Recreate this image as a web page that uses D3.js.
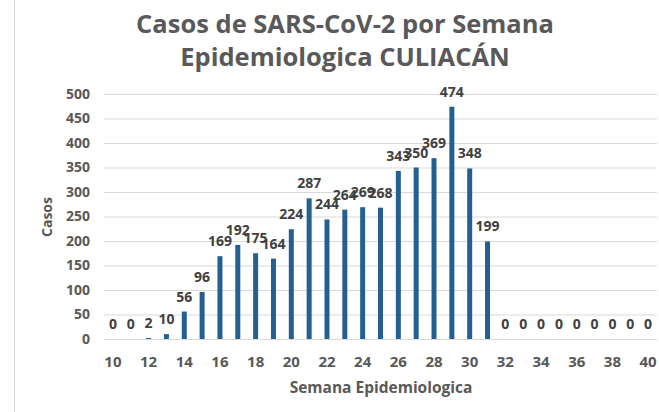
<!DOCTYPE html>
<html>
<head>
<meta charset="utf-8">
<script src="https://cdn.jsdelivr.net/npm/d3@7"></script>
<style>
  html, body { margin: 0; padding: 0; background: #ffffff; }
  svg { display: block; }
</style>
</head>
<body>
<svg id="chart" width="659" height="412"></svg>
<script>
// Weekly SARS-CoV-2 cases, Culiacán, epidemiological weeks 10–40
const weeks = [10, 11, 12, 13, 14, 15, 16, 17, 18, 19, 20, 21, 22, 23, 24, 25,
               26, 27, 28, 29, 30, 31, 32, 33, 34, 35, 36, 37, 38, 39, 40];
const cases = [0, 0, 2, 10, 56, 96, 169, 192, 175, 164, 224, 287, 244, 264, 269, 268,
               343, 350, 369, 474, 348, 199, 0, 0, 0, 0, 0, 0, 0, 0, 0];
const xTickWeeks = [10, 12, 14, 16, 18, 20, 22, 24, 26, 28, 30, 32, 34, 36, 38, 40];
const yTicks = [0, 50, 100, 150, 200, 250, 300, 350, 400, 450, 500];
const titleLines = ["Casos de SARS-CoV-2 por Semana", "Epidemiologica CULIACÁN"];
const xTitle = "Semana Epidemiologica";
const yTitle = "Casos";

const svg = d3.select("#chart");
const FONT = "'Open Sans', 'Noto Sans', sans-serif";
const TEXT = "#595959";
const LABEL = "#404040";
const BAR = "#255e91";
const GRID = "#d9d9d9";

const plot = { left: 104, right: 657, top: 94, bottom: 339 };

const x = d3.scaleBand()
  .domain(weeks)
  .range([plot.left, plot.right])
  .paddingInner(0.72)
  .paddingOuter(0.36);

const y = d3.scaleLinear()
  .domain([0, 500])
  .range([plot.bottom, plot.top]);

// chart area border on the left
svg.append("line")
  .attr("x1", 14.5).attr("x2", 14.5)
  .attr("y1", 0).attr("y2", 412)
  .attr("stroke", GRID).attr("stroke-width", 1);

// horizontal gridlines + value axis labels
const yAxis = d3.axisLeft(y)
  .tickValues(yTicks)
  .tickSize(-(plot.right - plot.left))
  .tickPadding(14);
const gy = svg.append("g")
  .attr("transform", `translate(${plot.left},0)`)
  .call(yAxis);
gy.select(".domain").remove();
gy.selectAll(".tick line").attr("stroke", GRID).attr("stroke-width", 1.2);
gy.selectAll(".tick text")
  .attr("fill", TEXT)
  .style("font-family", FONT)
  .style("font-weight", "700")
  .style("font-size", "14px");

// category axis labels
const xAxis = d3.axisBottom(x)
  .tickValues(xTickWeeks)
  .tickSize(0)
  .tickPadding(17);
const gx = svg.append("g")
  .attr("transform", `translate(0,${plot.bottom})`)
  .call(xAxis);
gx.select(".domain").remove();
gx.selectAll(".tick text")
  .attr("fill", TEXT)
  .style("font-family", FONT)
  .style("font-weight", "700")
  .style("font-size", "15px");

const data = weeks.map((w, i) => ({ week: w, value: cases[i] }));

// bars
svg.append("g").selectAll("rect")
  .data(data)
  .join("rect")
  .attr("x", d => x(d.week))
  .attr("width", x.bandwidth())
  .attr("y", d => y(d.value))
  .attr("height", d => y(0) - y(d.value))
  .attr("fill", BAR);

// value labels above bars
svg.append("g").selectAll("text")
  .data(data)
  .join("text")
  .attr("x", d => x(d.week) + x.bandwidth() / 2)
  .attr("y", d => y(d.value) - 10)
  .attr("text-anchor", "middle")
  .attr("fill", LABEL)
  .style("font-family", FONT)
  .style("font-weight", "700")
  .style("font-size", "14px")
  .text(d => d.value);

// title
svg.append("text")
  .attr("x", 345)
  .attr("text-anchor", "middle")
  .attr("fill", TEXT)
  .style("font-family", FONT)
  .style("font-weight", "700")
  .style("font-size", "25.5px")
  .selectAll("tspan")
  .data(titleLines)
  .join("tspan")
  .attr("x", 345)
  .attr("y", (d, i) => 33 + i * 33)
  .text(d => d);

// axis titles
svg.append("text")
  .attr("x", 381).attr("y", 393)
  .attr("text-anchor", "middle")
  .attr("fill", TEXT)
  .style("font-family", FONT)
  .style("font-weight", "700")
  .style("font-size", "15.5px")
  .text(xTitle);

svg.append("text")
  .attr("transform", "translate(52,217) rotate(-90)")
  .attr("text-anchor", "middle")
  .attr("fill", TEXT)
  .style("font-family", FONT)
  .style("font-weight", "700")
  .style("font-size", "14px")
  .text(yTitle);
</script>
</body>
</html>
